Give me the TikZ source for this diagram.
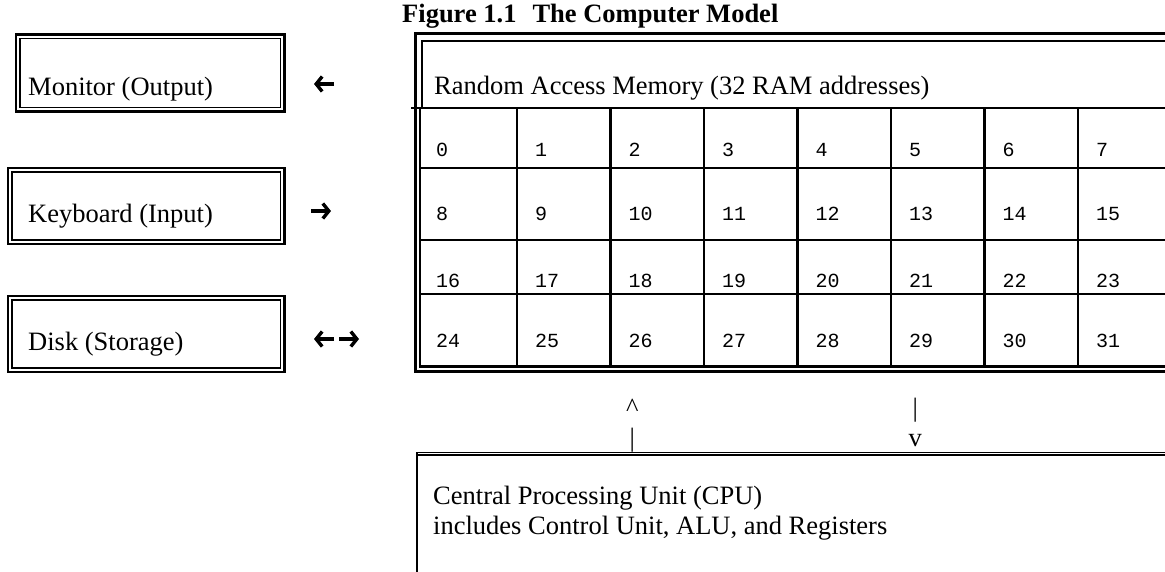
\documentclass[tikz,border=0pt]{standalone}
\usepackage{fontspec}
\setmainfont{Liberation Serif}
\setmonofont{Liberation Mono}
\usetikzlibrary{arrows.meta}
\tikzset{
  lbl/.style={anchor=base west, inner sep=0pt, font=\fontsize{26.5}{30}\selectfont},
  ttl/.style={anchor=base west, inner sep=0pt, font=\bfseries\fontsize{26.5}{30}\selectfont},
  num/.style={anchor=base west, inner sep=0pt, font=\ttfamily\fontsize{20}{24}\selectfont},
  outerb/.style={line width=2.5pt},
  innerb/.style={line width=1.5pt},
  ramouter/.style={line width=3pt},
  gridline/.style={line width=2.6pt},
  bigarrow/.style={draw=black, line width=3.4pt, arrows={-Straight Barb[length=6pt, width=15pt, line width=3.4pt]}},
}
\begin{document}
\begin{tikzpicture}[x=1pt,y=-1pt]
\clip (0,0) rectangle (1165,571);
\fill[white] (0,0) rectangle (1165,571);

% title
\node[ttl] (title) at (402,22) {Figure 1.1\hspace{16pt}The Computer Model};

% left device boxes
\draw[outerb] (16,34.7) rectangle (284.5,111.3);
\draw[innerb] (20,38.5) rectangle (280.5,107.5);
\node[lbl] (monitor) at (28,95.5) {Monitor (Output)};

\draw[outerb] (8,168) rectangle (284.5,244);
\draw[innerb] (12,172) rectangle (280.5,240);
\node[lbl] (keyboard) at (28,222) {Keyboard (Input)};

\draw[outerb] (8,296) rectangle (284.5,372);
\draw[innerb] (12,300) rectangle (280.5,368);
\node[lbl] (disk) at (28,350) {Disk (Storage)};

% arrows
\coordinate (mA) at (334,84);  \coordinate (mB) at (314,84);
\coordinate (kA) at (311,211); \coordinate (kB) at (331,211);
\coordinate (dA) at (334,339); \coordinate (dB) at (314,339);
\coordinate (dC) at (339,339); \coordinate (dD) at (359,339);
\path[bigarrow] (mA) -- (mB);
\path[bigarrow] (kA) -- (kB);
\path[bigarrow] (dA) -- (dB);
\path[bigarrow] (dC) -- (dD);

% RAM table
\draw[ramouter] (1175,33) -- (415,33) -- (415,371) -- (1175,371);
\draw[gridline] (1175,41) -- (422,41) -- (422,108);
\draw[gridline] (420,108) -- (420,366.5) -- (1175,366.5);
\draw[gridline] (411,108) -- (1175,108);
\foreach \y in {168,240,294} \draw[gridline] (420,\y) -- (1175,\y);
\foreach \k in {0,...,6} \draw[gridline] ({517+93.5*\k},108) -- ({517+93.5*\k},366.5);
\node[lbl] (ram) at (434,94) {Random Access Memory (32 RAM addresses)};

\foreach \r/\yy in {0/156,1/220,2/287,3/347}{
  \foreach \c in {0,...,7}{
    \pgfmathtruncatemacro{\n}{\r*8+\c}
    \ifnum\c=0 \def\xx{436}\else\pgfmathsetmacro{\xx}{517+93.5*(\c-1)+18}\fi
    \node[num] (cell\n) at (\xx,\yy) {\n};
  }
}

% bus markers
\node[lbl] (upA) at (626,416) {\^{}};
\node[lbl] (upB) at (629.5,446) {|};
\node[lbl] (dnA) at (912.5,416) {|};
\node[lbl] (dnB) at (908.5,446) {v};

% CPU box
\draw[line width=1.3pt] (417,452.5) -- (1175,452.5);
\draw[line width=1.3pt] (417,454.9) -- (1175,454.9);
\draw[line width=2.2pt] (417,452) -- (417,580);
\node[lbl] (cpu1) at (433,504) {Central Processing Unit (CPU)};
\node[lbl] (cpu2) at (433,534) {includes Control Unit, ALU, and Registers};
\end{tikzpicture}
\end{document}
